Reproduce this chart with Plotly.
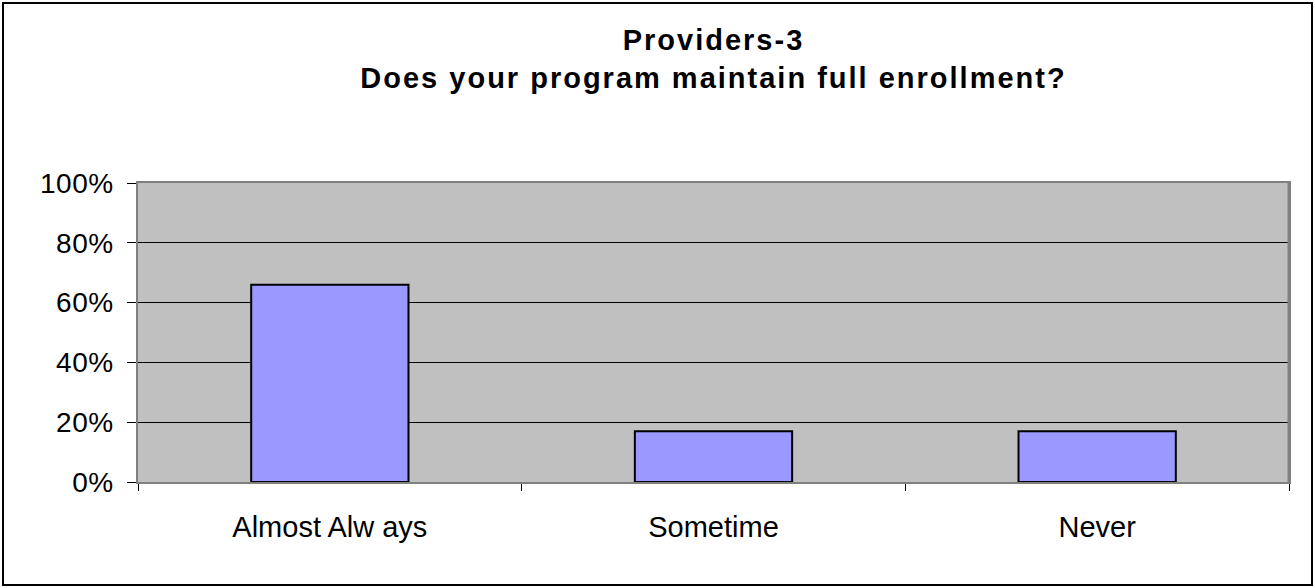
"""Providers-3: full enrollment survey bar chart"""

import plotly.graph_objects as go

categories = ["Almost Alw ays", "Sometime", "Never"]
percent_values = [66, 17, 17]
y_tick_values = [0, 20, 40, 60, 80, 100]
y_tick_labels = ["0%", "20%", "40%", "60%", "80%", "100%"]

title_lines = ["Providers-3", "Does your program maintain full enrollment?"]

W, H = 1315, 588
M_L, M_R, M_T, M_B = 138, 26, 183, 106
plot_w = W - M_L - M_R
plot_h = H - M_T - M_B

FONT = "Liberation Sans, Arial, sans-serif"

fig = go.Figure(go.Bar(
    x=categories,
    y=percent_values,
    marker=dict(color="#9999FF", line=dict(color="#000000", width=2)),
    hoverinfo="x+y",
))

# outer chart border (paper coords are relative to the plot area)
fig.add_shape(
    type="rect", xref="paper", yref="paper",
    x0=(3 - M_L) / plot_w, x1=(W - 3 - M_L) / plot_w,
    y0=-(H - 3 - (M_T + plot_h)) / plot_h, y1=(M_T + plot_h - 3) / plot_h,
    line=dict(color="#000000", width=2), layer="below",
)
# heavier right edge of the plot frame
fig.add_shape(
    type="line", xref="paper", yref="paper",
    x0=1, x1=1, y0=0, y1=1,
    line=dict(color="#808080", width=3),
)

fig.update_layout(
    width=W, height=H,
    margin=dict(l=M_L, r=M_R, t=M_T, b=M_B),
    paper_bgcolor="#FFFFFF",
    plot_bgcolor="#C0C0C0",
    bargap=0.59,
    showlegend=False,
    font=dict(family=FONT, color="#000000", size=26),
    title=dict(
        text="<br>".join(title_lines),
        x=0.5, xref="paper", xanchor="center",
        y=1 - 50 / H, yref="container", yanchor="top",
        font=dict(family=FONT, size=29, color="#000000", weight="bold"),
    ),
)

fig.update_xaxes(
    type="category",
    showgrid=False,
    showline=True, linecolor="#808080", linewidth=1.5, mirror=True,
    ticks="outside", tickson="boundaries", ticklen=7, tickcolor="#000000",
    ticklabelstandoff=18,
    tickfont=dict(family=FONT, size=29),
)

fig.update_yaxes(
    range=[0, 100],
    tickvals=y_tick_values, ticktext=y_tick_labels,
    showgrid=True, gridcolor="#000000", gridwidth=1,
    showline=True, linecolor="#808080", linewidth=1.5, mirror=True,
    ticks="outside", ticklen=9, tickcolor="#000000",
    ticklabelstandoff=8,
    tickfont=dict(family=FONT, size=28),
    zeroline=False,
)

# page margin off, and the wide letter spacing of the original export
page_js = """
document.body.style.margin = '0';
var st = document.createElement('style');
st.textContent = '.ytick text {letter-spacing: 0.5px;} .gtitle {letter-spacing: 2px;}';
document.head.appendChild(st);
"""

fig.write_html("out.html", post_script=page_js, config={"displayModeBar": False})
